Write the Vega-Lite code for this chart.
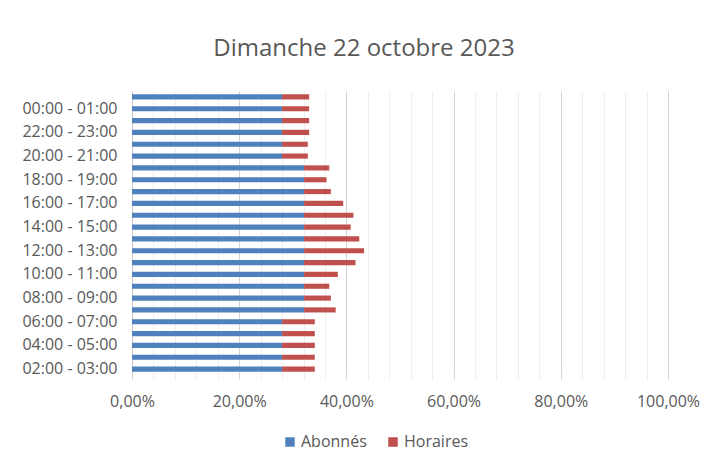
{
  "$schema": "https://vega.github.io/schema/vega-lite/v6.json",
  "autosize": {"type": "none"},
  "width": 536,
  "height": 284,
  "padding": {"left": 132, "top": 91, "right": 45, "bottom": 93},
  "background": "white",
  "title": {
    "text": "Dimanche 22 octobre 2023",
    "anchor": "middle",
    "frame": "group",
    "dx": -36,
    "offset": 30,
    "font": "Open Sans",
    "fontSize": 24,
    "fontWeight": "normal",
    "color": "#595959"
  },
  "config": {
    "view": {"stroke": null},
    "font": "Open Sans"
  },
  "data": {
    "values": [
      {"heure": "01:00 - 02:00", "type": "Abonnés", "valeur": 28.0, "ordre": 1},
      {"heure": "01:00 - 02:00", "type": "Horaires", "valeur": 5.05, "ordre": 2},
      {"heure": "00:00 - 01:00", "type": "Abonnés", "valeur": 28.0, "ordre": 1},
      {"heure": "00:00 - 01:00", "type": "Horaires", "valeur": 5.05, "ordre": 2},
      {"heure": "23:00 - 00:00", "type": "Abonnés", "valeur": 28.0, "ordre": 1},
      {"heure": "23:00 - 00:00", "type": "Horaires", "valeur": 5.05, "ordre": 2},
      {"heure": "22:00 - 23:00", "type": "Abonnés", "valeur": 28.0, "ordre": 1},
      {"heure": "22:00 - 23:00", "type": "Horaires", "valeur": 5.05, "ordre": 2},
      {"heure": "21:00 - 22:00", "type": "Abonnés", "valeur": 28.0, "ordre": 1},
      {"heure": "21:00 - 22:00", "type": "Horaires", "valeur": 4.8, "ordre": 2},
      {"heure": "20:00 - 21:00", "type": "Abonnés", "valeur": 28.0, "ordre": 1},
      {"heure": "20:00 - 21:00", "type": "Horaires", "valeur": 4.8, "ordre": 2},
      {"heure": "19:00 - 20:00", "type": "Abonnés", "valeur": 32.1, "ordre": 1},
      {"heure": "19:00 - 20:00", "type": "Horaires", "valeur": 4.7, "ordre": 2},
      {"heure": "18:00 - 19:00", "type": "Abonnés", "valeur": 32.1, "ordre": 1},
      {"heure": "18:00 - 19:00", "type": "Horaires", "valeur": 4.2, "ordre": 2},
      {"heure": "17:00 - 18:00", "type": "Abonnés", "valeur": 32.1, "ordre": 1},
      {"heure": "17:00 - 18:00", "type": "Horaires", "valeur": 5.0, "ordre": 2},
      {"heure": "16:00 - 17:00", "type": "Abonnés", "valeur": 32.1, "ordre": 1},
      {"heure": "16:00 - 17:00", "type": "Horaires", "valeur": 7.3, "ordre": 2},
      {"heure": "15:00 - 16:00", "type": "Abonnés", "valeur": 32.1, "ordre": 1},
      {"heure": "15:00 - 16:00", "type": "Horaires", "valeur": 9.2, "ordre": 2},
      {"heure": "14:00 - 15:00", "type": "Abonnés", "valeur": 32.1, "ordre": 1},
      {"heure": "14:00 - 15:00", "type": "Horaires", "valeur": 8.7, "ordre": 2},
      {"heure": "13:00 - 14:00", "type": "Abonnés", "valeur": 32.1, "ordre": 1},
      {"heure": "13:00 - 14:00", "type": "Horaires", "valeur": 10.3, "ordre": 2},
      {"heure": "12:00 - 13:00", "type": "Abonnés", "valeur": 32.1, "ordre": 1},
      {"heure": "12:00 - 13:00", "type": "Horaires", "valeur": 11.2, "ordre": 2},
      {"heure": "11:00 - 12:00", "type": "Abonnés", "valeur": 32.1, "ordre": 1},
      {"heure": "11:00 - 12:00", "type": "Horaires", "valeur": 9.6, "ordre": 2},
      {"heure": "10:00 - 11:00", "type": "Abonnés", "valeur": 32.1, "ordre": 1},
      {"heure": "10:00 - 11:00", "type": "Horaires", "valeur": 6.3, "ordre": 2},
      {"heure": "09:00 - 10:00", "type": "Abonnés", "valeur": 32.1, "ordre": 1},
      {"heure": "09:00 - 10:00", "type": "Horaires", "valeur": 4.7, "ordre": 2},
      {"heure": "08:00 - 09:00", "type": "Abonnés", "valeur": 32.1, "ordre": 1},
      {"heure": "08:00 - 09:00", "type": "Horaires", "valeur": 5.0, "ordre": 2},
      {"heure": "07:00 - 08:00", "type": "Abonnés", "valeur": 32.1, "ordre": 1},
      {"heure": "07:00 - 08:00", "type": "Horaires", "valeur": 5.9, "ordre": 2},
      {"heure": "06:00 - 07:00", "type": "Abonnés", "valeur": 28.0, "ordre": 1},
      {"heure": "06:00 - 07:00", "type": "Horaires", "valeur": 6.1, "ordre": 2},
      {"heure": "05:00 - 06:00", "type": "Abonnés", "valeur": 28.0, "ordre": 1},
      {"heure": "05:00 - 06:00", "type": "Horaires", "valeur": 6.1, "ordre": 2},
      {"heure": "04:00 - 05:00", "type": "Abonnés", "valeur": 28.0, "ordre": 1},
      {"heure": "04:00 - 05:00", "type": "Horaires", "valeur": 6.1, "ordre": 2},
      {"heure": "03:00 - 04:00", "type": "Abonnés", "valeur": 28.0, "ordre": 1},
      {"heure": "03:00 - 04:00", "type": "Horaires", "valeur": 6.1, "ordre": 2},
      {"heure": "02:00 - 03:00", "type": "Abonnés", "valeur": 28.0, "ordre": 1},
      {"heure": "02:00 - 03:00", "type": "Horaires", "valeur": 6.1, "ordre": 2}
    ]
  },
  "mark": {"type": "bar"},
  "encoding": {
    "y": {
      "field": "heure",
      "type": "nominal",
      "sort": null,
      "scale": {"paddingInner": 0.57, "paddingOuter": 0.285},
      "axis": {
        "title": null,
        "values": ["00:00 - 01:00", "22:00 - 23:00", "20:00 - 21:00", "18:00 - 19:00", "16:00 - 17:00", "14:00 - 15:00", "12:00 - 13:00", "10:00 - 11:00", "08:00 - 09:00", "06:00 - 07:00", "04:00 - 05:00", "02:00 - 03:00"],
        "ticks": false,
        "domain": true,
        "domainColor": "#c8c8c8",
        "domainWidth": 1,
        "labelPadding": 15,
        "labelFont": "Open Sans",
        "labelFontSize": 16,
        "labelColor": "#595959",
        "grid": false
      }
    },
    "x": {
      "field": "valeur",
      "type": "quantitative",
      "stack": "zero",
      "scale": {"domain": [0, 100], "nice": false},
      "axis": {
        "title": null,
        "values": [0, 4, 8, 12, 16, 20, 24, 28, 32, 36, 40, 44, 48, 52, 56, 60, 64, 68, 72, 76, 80, 84, 88, 92, 96, 100],
        "labelExpr": "datum.value % 20 === 0 ? replace(format(datum.value, '.2f'), '.', ',') + '%' : ''",
        "grid": true,
        "gridColor": {"condition": {"test": "datum.value % 20 === 0", "value": "#d4d4d4"}, "value": "#eeeeee"},
        "gridWidth": 1,
        "ticks": true,
        "tickSize": 4,
        "tickColor": {"condition": {"test": "datum.value % 20 === 0", "value": "#d4d4d4"}, "value": "#eeeeee"},
        "domain": false,
        "labelPadding": 14,
        "labelFlush": false,
        "labelBound": false,
        "labelFont": "Open Sans",
        "labelFontSize": 16,
        "labelColor": "#595959",
        "labelOverlap": false
      }
    },
    "color": {
      "field": "type",
      "type": "nominal",
      "scale": {"domain": ["Abonnés", "Horaires"], "range": ["#4F81BD", "#C0504D"]},
      "legend": {
        "title": null,
        "orient": "none",
        "direction": "horizontal",
        "legendX": 150,
        "legendY": 343,
        "symbolType": "square",
        "symbolSize": 90,
        "symbolStrokeWidth": 0,
        "labelFont": "Open Sans",
        "labelFontSize": 16,
        "labelColor": "#595959",
        "labelOffset": 3,
        "columnPadding": 18
      }
    },
    "order": {"field": "ordre", "type": "quantitative"}
  }
}
